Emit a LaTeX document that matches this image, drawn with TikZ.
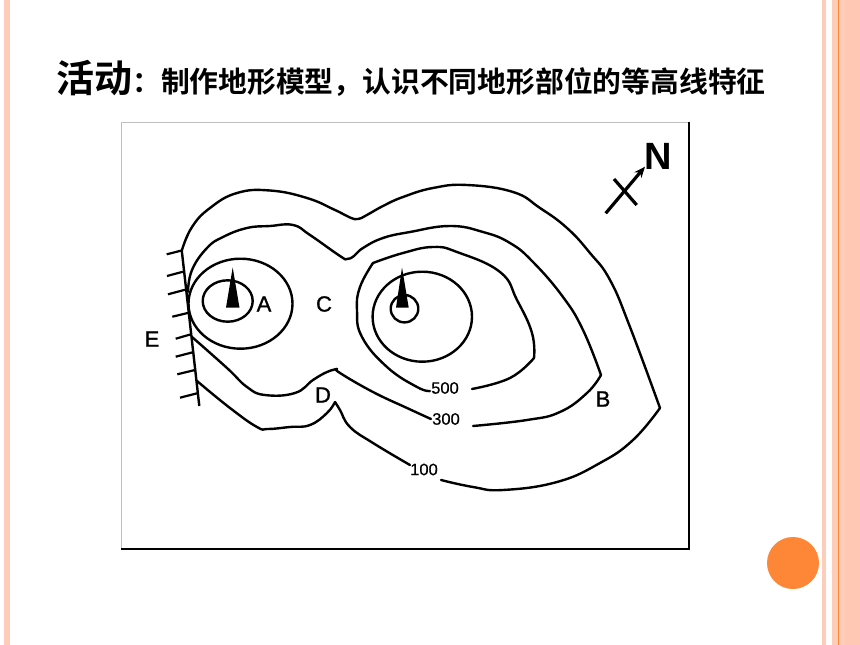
\documentclass[tikz,border=0pt]{standalone}
\usepackage{fontspec}
\setmainfont{Liberation Sans}
\newfontfamily\cjk{Noto Sans CJK SC}[BoldFont={Noto Sans CJK SC Bold}]
\newfontfamily\labelfont{Liberation Sans}[FakeBold=1.2]
\newfontfamily\heightfont{Liberation Sans}[FakeBold=0.6]
\usetikzlibrary{arrows.meta}
\definecolor{stripe}{HTML}{FDCDB9}
\definecolor{stripeb}{HTML}{FEC8B4}
\definecolor{accent}{HTML}{FD8637}
\tikzset{
  contour/.style={line width=2.4pt,line join=round,line cap=round},
  tick/.style={line width=2.2pt},
  maplabel/.style={font=\labelfont\fontsize{22}{22}\selectfont,inner sep=0pt},
  height/.style={font=\heightfont\fontsize{16.5}{17}\selectfont,inner sep=0pt},
  peak/.style={fill=black,draw=none},
  sm/.style={smooth,tension=0.75}
}
\begin{document}
\begin{tikzpicture}[x=1pt,y=-1pt]
\useasboundingbox (0,0) rectangle (860,645);
% side stripes
\fill[stripe] (4,0) rectangle (10,645);
\fill[stripe] (822,0) rectangle (826,645);
\fill[stripe] (832,0) rectangle (845,645);
\fill[stripeb] (845,0) rectangle (860,645);
\fill[accent] (838,0) rectangle (839.2,645);
\node[anchor=base west,inner sep=0pt] (title) at (56,92) {\cjk\bfseries\fontsize{38}{38}\selectfont 活动\fontsize{28.8}{28.8}\selectfont ：制作地形模型，认识不同地形部位的等高线特征};
% frame
\draw[line width=1pt,black!25] (121,549) -- (121,122) -- (689,122);
\draw[line width=1.8pt] (121,549) -- (689,549) -- (689,122);
% contour 100
\draw[contour] plot[sm] coordinates {(182,250)(192,227)(210,208)(237,193)(270,190.5)(307,198)(335,210)(350,217.5)(358,219)(366,215.5)(383,206)(403,197)(433,188)(467,185)(513,192)(540,208)(567,228)(590,253)(610,280)(630,327)(660,408)};
\draw[contour] plot[sm] coordinates {(660,408)(633,440)(600,463)(557,482)(503,490)(473,487)(441,480)};
\draw[contour] plot[sm] coordinates {(410,465)(373,443)(350,427)(340,410)(335,402)};
\draw[contour] plot[sm] coordinates {(335,402)(327,413)(310,425)(290,427)(268,429)(257,427)(230,408)(197,381)};
% contour 300
\draw[contour] plot[sm] coordinates {(188,292)(192,270)(207,248)(223,237)(247,228)(270,226)(293,225)(310,235)(340,256)(347,259)(354,256)(363,248)(383,238)(410,232)(450,226)(483,232)(510,243)(533,262)(563,297)(583,330)(601,375)};
\draw[contour] plot[sm] coordinates {(601,375)(587,393)(560,412)(527,420)(473,426)};
\draw[contour] plot[sm] coordinates {(431,419)(407,408)(373,392)(340,373)(337,369)};
\draw[contour] plot[sm] coordinates {(337,369)(327,372)(313,380)(295,393)(265,395)(247,387)(227,368)(192,337)};
% contour 500
\draw[contour] plot[sm] coordinates {(430,391)(417,387)(387,367)(362,337)(357,310)(360,287)(373,263)};
\draw[contour] plot[sm] coordinates {(373,263)(403,253)(433,247)(457,252)(500,272)(517,300)(532,333)(534,358)};
\draw[contour] plot[sm] coordinates {(534,358)(510,378)(472,389)};
% circles
\draw[contour] (240.5,303.7) ellipse [x radius=52,y radius=45];
\draw[contour] (227.7,301) ellipse [x radius=25,y radius=20.7];
\draw[contour] (422.3,316.7) ellipse [x radius=49.7,y radius=45];
\draw[contour] (404.5,308.7) ellipse [x radius=13.8,y radius=13.7];
% peaks
\fill[peak] (232.7,267.5) -- (239.5,307.7) -- (226,307.7) -- cycle;
\fill[peak] (402,267.5) -- (408.7,307.7) -- (396,307.7) -- cycle;
% cliff
\coordinate (c0) at (181.7,250);
\coordinate (c1) at (199.3,406);
\draw[contour,line cap=butt] (c0) -- (c1);
\draw[tick] (166.7,254.3) -- (181.7,250.5);
\draw[tick] (167,276) -- (183,271.7);
\draw[tick] (168,294.3) -- (186.7,289.3);
\draw[tick] (172.3,316.7) -- (189,312.7);
\draw[tick] (175.7,338.7) -- (191,334.3);
\draw[tick] (175.7,356.7) -- (192.7,352.3);
\draw[tick] (177.3,374.3) -- (195,370);
\draw[tick] (180,397.7) -- (197,393.3);
% compass
\coordinate (s) at (605.7,213.3);
\coordinate (t) at (645,166.7);
\draw[line width=3.2pt,-{Stealth[length=11pt,width=9pt]}] (s) -- (t);
\draw[line width=3.2pt] (614,179) -- (636.7,205);
\node[inner sep=0pt] (north) at (658.5,156) {\bfseries\fontsize{38}{38}\selectfont N};
% labels
\node[maplabel] (la) at (264,304) {A};
\node[maplabel] (lc) at (324,304) {C};
\node[maplabel] (le) at (152,339) {E};
\node[maplabel] (ld) at (323,395) {D};
\node[maplabel] (lb) at (603,399) {B};
\node[height] (h500) at (445,388) {500};
\node[height] (h300) at (446,419) {300};
\node[height] (h100) at (424,469.5) {100};
% badge
\fill[accent] (793,563) circle (26);
\end{tikzpicture}
\end{document}
